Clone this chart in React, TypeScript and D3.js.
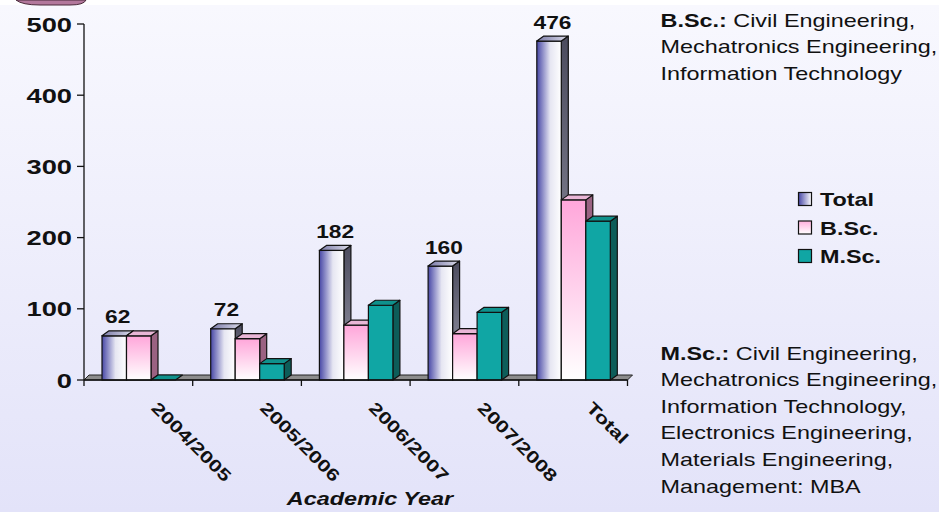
import React from 'react';
import * as d3 from 'd3';

const categories = ['2004/2005', '2005/2006', '2006/2007', '2007/2008', 'Total'];
const seriesNames = ['Total', 'B.Sc.', 'M.Sc.'];
const totalValues = [62, 72, 182, 160, 476];
const bscValues = [62, 58, 77, 65, 253];
const mscValues = [0, 23, 105, 95, 223];
const yTicks = [0, 100, 200, 300, 400, 500];
const bscProgrammes = ['Civil Engineering,', 'Mechatronics Engineering,', 'Information Technology'];
const mscProgrammes = [
  'Civil Engineering,',
  'Mechatronics Engineering,',
  'Information Technology,',
  'Electronics Engineering,',
  'Materials Engineering,',
  'Management: MBA',
];
const xTitle = 'Academic Year';

const W = 939;
const H = 512;
const FONT = '"Liberation Sans", Arial, Helvetica, sans-serif';
const SX = 1.3;
const DX = 7;
const DY = 5;

const seriesValues = [totalValues, bscValues, mscValues];
const faceFill = [
  { front: 'url(#totFront)', side: 'url(#totSide)', top: 'url(#totTop)' },
  { front: 'url(#bscFront)', side: '#9a6282', top: '#e9b6d6' },
  { front: '#10a6a4', side: '#0d5d59', top: '#0f918c' },
];

function SText(props: any) {
  const { x, y, size, weight, anchor, rotate, style, children } = props;
  const tr = `translate(${x},${y})${rotate ? ` rotate(${rotate})` : ''} scale(${SX},1)`;
  return (
    <text
      transform={tr}
      fontSize={size}
      fontWeight={weight || 'normal'}
      textAnchor={anchor || 'start'}
      fontFamily={FONT}
      fill="#111"
      style={style}
    >
      {children}
    </text>
  );
}

export default function App() {
  const y = d3.scaleLinear().domain([0, 500]).range([380, 24]);
  const x0 = d3.scaleBand<string>().domain(categories).range([84, 627.5]).padding(0);
  const x1 = d3.scaleBand<string>().domain(seriesNames).range([18, 91.5]).padding(0);
  const bw = x1.bandwidth();
  const y0 = y(0);
  const xEnd = x0.range()[1];

  const bars: any[] = [];
  categories.forEach((c, i) => {
    seriesNames.forEach((s, j) => {
      const v = seriesValues[j][i];
      const x = (x0(c) as number) + (x1(s) as number);
      const yt = y(v);
      const f = faceFill[j];
      const key = `${i}-${j}`;
      const top = `M${x},${yt}L${x + DX},${yt - DY}L${x + bw + DX},${yt - DY}L${x + bw},${yt}Z`;
      if (v > 0) {
        const side = `M${x + bw},${yt}L${x + bw + DX},${yt - DY}L${x + bw + DX},${y0 - DY}L${x + bw},${y0}Z`;
        bars.push(
          <g key={key}>
            <path d={side} fill={f.side} stroke="#111" strokeWidth={1.2} strokeLinejoin="round" />
            <rect x={x} y={yt} width={bw} height={y0 - yt} fill={f.front} stroke="#111" strokeWidth={1.2} />
            <path d={top} fill={f.top} stroke="#111" strokeWidth={1.2} strokeLinejoin="round" />
          </g>
        );
      } else {
        bars.push(
          <path key={key} d={top} fill={f.top} stroke="#111" strokeWidth={1.2} strokeLinejoin="round" />
        );
      }
    });
  });

  const legendItems = seriesNames.map((s, j) => ({ s, fill: faceFill[j].front }));
  const legendFills = ['url(#totLeg)', 'url(#bscLeg)', '#10a6a4'];

  return (
    <svg
      width={W}
      height={H}
      style={{ position: 'absolute', left: 0, top: 0, display: 'block' }}
      xmlns="http://www.w3.org/2000/svg"
    >
      <defs>
        <linearGradient id="bg" x1="0" y1="0" x2="0" y2="1">
          <stop offset="0" stopColor="#f8f8fe" />
          <stop offset="1" stopColor="#e3e3f9" />
        </linearGradient>
        <linearGradient id="totFront" x1="0" y1="0" x2="1" y2="0">
          <stop offset="0" stopColor="#4747a6" />
          <stop offset="0.55" stopColor="#e6e6f2" />
          <stop offset="1" stopColor="#ffffff" />
        </linearGradient>
        <linearGradient id="totLeg" x1="0" y1="0" x2="1" y2="0">
          <stop offset="0" stopColor="#4747a6" />
          <stop offset="1" stopColor="#ffffff" />
        </linearGradient>
        <linearGradient id="totSide" x1="0" y1="0" x2="0" y2="1">
          <stop offset="0" stopColor="#4c4c5e" />
          <stop offset="1" stopColor="#9c9cac" />
        </linearGradient>
        <linearGradient id="totTop" x1="0" y1="0" x2="1" y2="0">
          <stop offset="0" stopColor="#7a7aa8" />
          <stop offset="1" stopColor="#dcdcea" />
        </linearGradient>
        <linearGradient id="bscFront" x1="0" y1="0" x2="0" y2="1">
          <stop offset="0" stopColor="#ffa6da" />
          <stop offset="1" stopColor="#ffffff" />
        </linearGradient>
        <linearGradient id="bscLeg" x1="0" y1="0" x2="0" y2="1">
          <stop offset="0" stopColor="#ffb0de" />
          <stop offset="1" stopColor="#ffffff" />
        </linearGradient>
      </defs>

      <rect x={0} y={0} width={W} height={H} fill="#ffffff" />
      <rect x={0} y={5} width={W} height={H - 5} fill="url(#bg)" />
      <path d="M16,0 Q22,5 40,5 L70,5 Q84,5 86,0 Z" fill="#b3789c" stroke="#4a2a3a" strokeWidth={1} />

      {/* floor */}
      <path
        d={`M${x0.range()[0]},${y0}L${xEnd},${y0}L${xEnd + 5},${y0 - DY}L${x0.range()[0] + 5},${y0 - DY}Z`}
        fill="#8c8c8c"
        stroke="#222"
        strokeWidth={1}
      />

      {bars}

      {/* value labels on Total bars */}
      {categories.map((c, i) => {
        const x = (x0(c) as number) + (x1('Total') as number) + bw / 2 + DX / 2;
        return (
          <SText key={`lbl-${c}`} x={x} y={y(totalValues[i]) - 12.5} size={17.5} weight="bold" anchor="middle">
            {totalValues[i]}
          </SText>
        );
      })}

      {/* y axis */}
      <line x1={84} x2={84} y1={y(500)} y2={y0} stroke="#111" strokeWidth={1.3} />
      {yTicks.map((t) => (
        <g key={`yt-${t}`}>
          <line x1={77} x2={84} y1={y(t)} y2={y(t)} stroke="#111" strokeWidth={1.3} />
          <SText x={72} y={y(t) + 7.6} size={21} weight="bold" anchor="end">
            {t}
          </SText>
        </g>
      ))}

      {/* x axis */}
      <line x1={84} x2={xEnd} y1={y0} y2={y0} stroke="#111" strokeWidth={1.3} />
      {[...categories.map((c) => x0(c) as number), xEnd].map((xv, k) => (
        <line key={`xt-${k}`} x1={xv} x2={xv} y1={y0} y2={y0 + 6} stroke="#111" strokeWidth={1.3} />
      ))}
      {categories.map((c) => (
        <SText
          key={`xl-${c}`}
          x={(x0(c) as number) + x0.bandwidth() / 2 + 12}
          y={409}
          size={17}
          weight="bold"
          rotate={45}
        >
          {c}
        </SText>
      ))}
      <SText x={370} y={505} size={18} weight="bold" anchor="middle" style={{ fontStyle: 'italic' }}>
        {xTitle}
      </SText>

      {/* legend */}
      {legendItems.map((it, j) => (
        <g key={`lg-${it.s}`}>
          <rect x={798.5} y={192.5 + j * 28.5} width={13} height={13} fill={legendFills[j]} stroke="#111" strokeWidth={1.2} />
          <SText x={820} y={206 + j * 28.5} size={18} weight="bold">
            {it.s}
          </SText>
        </g>
      ))}

      {/* programme notes */}
      {bscProgrammes.map((line, k) => (
        <SText key={`b-${k}`} x={660.5} y={26.5 + k * 26.5} size={18}>
          {k === 0 ? <tspan fontWeight="bold">B.Sc.: </tspan> : null}
          {line}
        </SText>
      ))}
      {mscProgrammes.map((line, k) => (
        <SText key={`m-${k}`} x={660.5} y={359.5 + k * 26.6} size={18}>
          {k === 0 ? <tspan fontWeight="bold">M.Sc.: </tspan> : null}
          {line}
        </SText>
      ))}
    </svg>
  );
}
